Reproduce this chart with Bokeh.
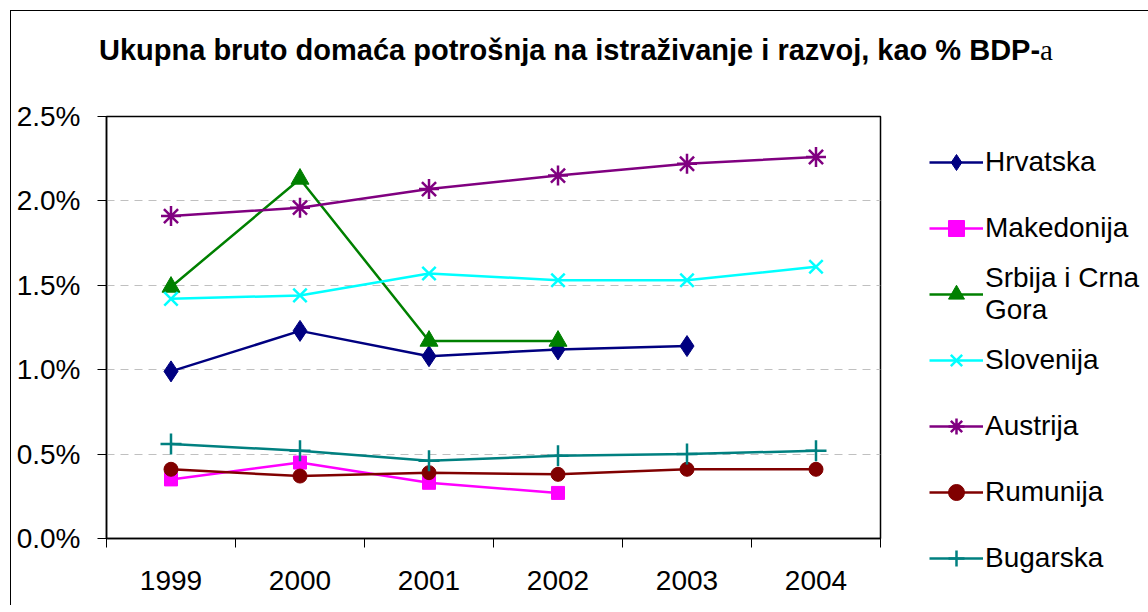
from bokeh.plotting import figure
from bokeh.layouts import column
from bokeh.models import Range1d, FixedTicker, PrintfTickFormatter, Legend, LegendItem, Div
from bokeh.embed import file_html
from bokeh.resources import INLINE

years = [1999, 2000, 2001, 2002, 2003, 2004]
year_labels = ["1999", "2000", "2001", "2002", "2003", "2004"]

hrvatska = [0.99, 1.23, 1.08, 1.12, 1.14]
makedonija = [0.35, 0.45, 0.33, 0.27]
srbija = [1.49, 2.13, 1.17, 1.17]
slovenija = [1.42, 1.44, 1.57, 1.53, 1.53, 1.61]
austrija = [1.91, 1.96, 2.07, 2.15, 2.22, 2.26]
rumunija = [0.41, 0.37, 0.39, 0.38, 0.41, 0.41]
bugarska = [0.56, 0.52, 0.46, 0.49, 0.50, 0.52]

y_ticks = [0.0, 0.5, 1.0, 1.5, 2.0, 2.5]
title_main = "Ukupna bruto domaća potrošnja na istraživanje i razvoj, kao % BDP-"
title_tail = "a"

series = [
    ("Hrvatska", hrvatska, "#000080", "diamond", 21, 1, "#000080"),
    ("Makedonija", makedonija, "#FF00FF", "square", 13, 1, "#FF00FF"),
    ("Srbija i Crna\nGora", srbija, "#008000", "triangle", 18, 1, "#008000"),
    ("Slovenija", slovenija, "#00FFFF", "x", 19, 2.5, None),
    ("Austrija", austrija, "#800080", "asterisk", 20, 2.5, None),
    ("Rumunija", rumunija, "#800000", "circle", 14, 1, "#800000"),
    ("Bugarska", bugarska, "#008080", "cross", 21, 2.5, None),
]

W = 1130
DIV_H = 80

title_html = ('<div style="width:%dpx;text-align:center;padding-top:22px;line-height:34px;'
              'font-family:\'Liberation Sans\';font-weight:bold;font-size:29px;color:black;'
              'white-space:nowrap">%s<span style="font-family:\'Liberation Serif\';'
              'font-weight:normal">%s</span></div>') % (W, title_main, title_tail)
div = Div(text=title_html, width=W, height=DIV_H, margin=0)

p = figure(frame_width=774, frame_height=422, output_backend="svg", toolbar_location=None,
           x_range=Range1d(1998.5, 2004.5), y_range=Range1d(0, 2.5),
           min_border_left=95, min_border_right=0,
           min_border_top=25, min_border_bottom=67,
           background_fill_color="white", border_fill_color="white", margin=0)
p.outline_line_color = "black"
p.outline_line_width = 1.5

p.xgrid.grid_line_color = None
p.ygrid.ticker = FixedTicker(ticks=[0.5, 1.0, 1.5, 2.0])
p.ygrid.grid_line_color = "#C0C0C0"
p.ygrid.grid_line_dash = "8 6"
p.ygrid.grid_line_width = 1

xa = p.xaxis[0]
xa.ticker = FixedTicker(ticks=years, minor_ticks=[y - 0.5 for y in years] + [years[-1] + 0.5])
xa.major_label_overrides = {y: s for y, s in zip(years, year_labels)}
xa.major_tick_line_color = None
xa.major_tick_out = 8
xa.major_tick_in = 0
xa.minor_tick_out = 9
xa.minor_tick_in = 0
xa.minor_tick_line_color = "black"
xa.axis_line_color = "black"
xa.axis_line_width = 1.5
xa.major_label_text_font = "Liberation Sans"
xa.major_label_text_font_size = "28px"
xa.major_label_text_color = "black"
xa.major_label_standoff = 23

ya = p.yaxis[0]
ya.ticker = FixedTicker(ticks=y_ticks)
ya.formatter = PrintfTickFormatter(format="%.1f%%")
ya.major_tick_out = 9
ya.major_tick_in = 0
ya.minor_tick_line_color = None
ya.axis_line_color = "black"
ya.axis_line_width = 1.5
ya.major_label_text_font = "Liberation Sans"
ya.major_label_text_font_size = "28px"
ya.major_label_text_color = "black"
ya.major_label_standoff = 17

items = []
for name, vals, color, marker, size, lw, fill in series:
    xs = years[:len(vals)]
    r1 = p.line(xs, vals, line_color=color, line_width=2.5)
    r2 = p.scatter(xs, vals, marker=marker, size=size, line_color=color,
                   fill_color=fill if fill else color, line_width=lw)
    items.append(LegendItem(label=name, renderers=[r1, r2]))

legend = Legend(items=items, location=(49, -53), padding=0, margin=0,
                spacing=0, label_height=66, glyph_height=40, glyph_width=54,
                label_standoff=2, border_line_color=None, background_fill_alpha=0,
                label_text_font="Liberation Sans", label_text_font_size="28px",
                label_text_color="black")
p.add_layout(legend, "right")

layout = column(div, p, spacing=0,
                styles={"margin-left": "10px", "margin-top": "10px",
                        "border-top": "1px solid black", "border-left": "1px solid black"})

open("out.html", "w").write(file_html(layout, INLINE))
